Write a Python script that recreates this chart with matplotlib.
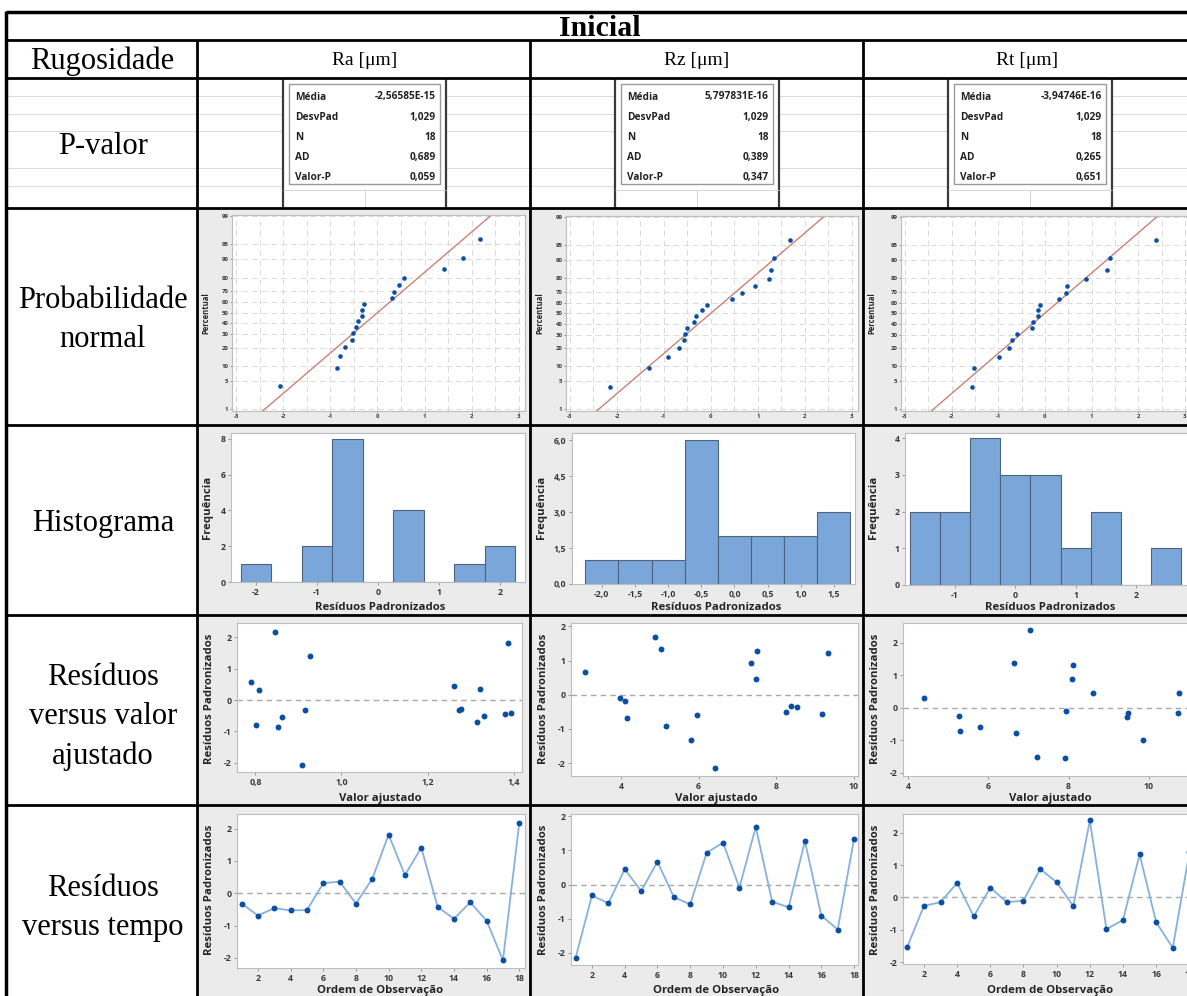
import numpy as np
import matplotlib
matplotlib.use('Agg')
import matplotlib.pyplot as plt
from matplotlib.lines import Line2D
from matplotlib.patches import Rectangle
from matplotlib.ticker import FuncFormatter, FixedLocator
from statistics import NormalDist

W, H = 1187, 996

# ---------------- data ----------------
title = "Inicial"
header = "Rugosidade"
surfaces = ["Ra [μm]", "Rz [μm]", "Rt [μm]"]
row_labels = ["P-valor", "Probabilidade\nnormal", "Histograma",
              "Resíduos\nversus valor\najustado", "Resíduos\nversus tempo"]

obs_order = list(range(1, 19))

resid_ra = [-0.32, -0.69, -0.46, -0.53, -0.52, 0.31, 0.36, -0.32, 0.45,
            1.81, 0.56, 1.41, -0.42, -0.79, -0.28, -0.85, -2.07, 2.18]
fit_ra = [0.916, 1.315, 1.379, 0.862, 1.331, 0.808, 1.322, 1.272, 1.261,
          1.387, 0.791, 0.926, 1.395, 0.801, 1.278, 0.852, 0.909, 0.845]

resid_rz = [-2.15, -0.32, -0.55, 0.45, -0.19, 0.67, -0.37, -0.58, 0.93,
            1.23, -0.09, 1.69, -0.50, -0.67, 1.27, -0.91, -1.32, 1.34]
fit_rz = [6.43, 8.39, 9.17, 7.48, 4.10, 3.07, 8.55, 5.95, 7.35,
          9.33, 3.98, 4.87, 8.25, 4.15, 7.52, 5.16, 5.81, 5.04]

resid_rt = [-1.52, -0.26, -0.15, 0.45, -0.59, 0.30, -0.15, -0.10, 0.88,
            0.47, -0.27, 2.38, -0.98, -0.70, 1.33, -0.77, -1.56, 1.39]
fit_rt = [7.22, 5.28, 9.49, 8.61, 5.80, 4.41, 10.72, 7.94, 8.09,
          10.74, 9.45, 7.05, 9.86, 5.29, 8.10, 6.68, 7.92, 6.64]

hist_edges_ra = [-2.25, -1.75, -1.25, -0.75, -0.25, 0.25, 0.75, 1.25, 1.75, 2.25]
hist_edges_rz = [-2.25, -1.75, -1.25, -0.75, -0.25, 0.25, 0.75, 1.25, 1.75]
hist_edges_rt = [-1.75, -1.25, -0.75, -0.25, 0.25, 0.75, 1.25, 1.75, 2.25, 2.75]

stat_labels = ["Média", "DesvPad", "N", "AD", "Valor-P"]
stats_ra = ["-2,56585E-15", "1,029", "18", "0,689", "0,059"]
stats_rz = ["5,797831E-16", "1,029", "18", "0,389", "0,347"]
stats_rt = ["-3,94746E-16", "1,029", "18", "0,265", "0,651"]
mean_ra, mean_rz, mean_rt = -2.56585e-15, 5.797831e-16, -3.94746e-16
sd_ra, sd_rz, sd_rt = 1.029, 1.029, 1.029

prob_ticks = [1, 5, 10, 20, 30, 40, 50, 60, 70, 80, 90, 95, 99]

# ---------------- style ----------------
plt.rcParams['font.family'] = ['Open Sans', 'DejaVu Sans']
SERIF = ['Liberation Serif', 'DejaVu Serif']
PANEL = '#ebebeb'
DOT = '#0a4fa3'
LINE_TS = '#86b1df'
BAR = '#7ba6d9'
BAR_EDGE = '#4d6380'
FITLINE = '#c98273'
TXT = '#3a3a3a'
LAB = '#262626'

fig = plt.figure(figsize=(W / 100, H / 100), dpi=100)
fig.patch.set_facecolor('white')


def rect_px(x0, y0, x1, y1):
    return [x0 / W, 1 - y1 / H, (x1 - x0) / W, (y1 - y0) / H]


def hline(y, x0, x1, lw=2.0, color='black', z=5):
    fig.add_artist(Line2D([x0 / W, x1 / W], [1 - y / H, 1 - y / H], lw=lw, color=color,
                          transform=fig.transFigure, solid_capstyle='butt', zorder=z))


def vline(x, y0, y1, lw=2.0, color='black', z=5):
    fig.add_artist(Line2D([x / W, x / W], [1 - y0 / H, 1 - y1 / H], lw=lw, color=color,
                          transform=fig.transFigure, solid_capstyle='butt', zorder=z))


def box(x0, y0, x1, y1, fc, ec='none', lw=0, z=-1):
    fig.add_artist(Rectangle((x0 / W, 1 - y1 / H), (x1 - x0) / W, (y1 - y0) / H,
                             transform=fig.transFigure, facecolor=fc, edgecolor=ec,
                             lw=lw, zorder=z))


def ftext(x, y, s, **kw):
    fig.text(x / W, 1 - y / H, s, **kw)


def comma_fmt(dec):
    def f(v, pos):
        return f"{v:.{dec}f}".replace('.', ',')
    return FuncFormatter(f)


def style_ax(ax, fs=6.3):
    ax.set_facecolor('white')
    for sp in ax.spines.values():
        sp.set_color('#bdbdbd')
        sp.set_linewidth(0.8)
    ax.tick_params(direction='out', length=2.5, width=0.6, color='#8a8a8a',
                   labelcolor=TXT, labelsize=fs, pad=1.5)
    for lab in ax.get_xticklabels() + ax.get_yticklabels():
        lab.set_fontweight('bold')


# ---------------- panels background ----------------
col_x = [197, 530, 863, 1187]
row_y = [208, 425, 615, 805, 996]
for c in range(3):
    for r in range(4):
        box(col_x[c], row_y[r], col_x[c + 1], row_y[r + 1], PANEL)

# ---------------- P-valor area (spreadsheet look) ----------------
for yy in [96, 114, 131, 168, 186]:
    hline(yy, 6, 1187, lw=0.6, color='#d4d4d4', z=1)
for xx in [365, 697, 1030]:
    vline(xx, 78, 208, lw=0.6, color='#d4d4d4', z=1)

box_x = [(283, 446), (615, 779), (948, 1112)]
all_stats = [stats_ra, stats_rz, stats_rt]
for (bx0, bx1), st in zip(box_x, all_stats):
    box(bx0, 78, bx1, 208, 'white', z=2)
    vline(bx0, 78, 208, lw=1.6, color='#3a3a3a', z=3)
    vline(bx1, 78, 208, lw=1.6, color='#3a3a3a', z=3)
    hline(190, bx0, bx1, lw=0.6, color='#cfcfcf', z=3)
    vline((bx0 + bx1) / 2, 190, 208, lw=0.6, color='#cfcfcf', z=3)
    box(bx0 + 6, 84, bx1 - 6, 184, 'white', ec='#9a9a9a', lw=1.0, z=4)
    for i, (lab, val) in enumerate(zip(stat_labels, st)):
        yy = 97 + i * 20.2
        ftext(bx0 + 12, yy, lab, fontsize=7.3, fontweight='bold', color='#222222',
              ha='left', va='center', zorder=6)
        ftext(bx1 - 10, yy, val, fontsize=7.3, fontweight='bold', color='#222222',
              ha='right', va='center', zorder=6)

# ---------------- plots ----------------
nd = NormalDist()
residuals = [resid_ra, resid_rz, resid_rt]
fits = [fit_ra, fit_rz, fit_rt]
means = [mean_ra, mean_rz, mean_rt]
sds = [sd_ra, sd_rz, sd_rt]
edges = [hist_edges_ra, hist_edges_rz, hist_edges_rt]

norm_boxes = [(232, 215, 525, 411), (566, 216, 858, 411), (901, 216, 1191, 411)]
hist_boxes = [(231, 433, 525, 582), (572, 433, 855, 584), (905, 433, 1195, 585)]
fit_boxes = [(237, 623, 522, 772), (571, 623, 858, 776), (903, 623, 1195, 776)]
ord_boxes = [(237, 814, 525, 968), (571, 814, 858, 965), (903, 814, 1195, 964)]

hist_xlim = [(-2.41, 2.41), (-2.45, 1.82), (-1.83, 2.98)]
hist_ylim = [(0, 8.32), (0, 6.31), (0, 4.14)]
hist_xt = [[-2, -1, 0, 1, 2], [-2, -1.5, -1, -0.5, 0, 0.5, 1, 1.5], [-1, 0, 1, 2]]
hist_yt = [[0, 2, 4, 6, 8], [0, 1.5, 3, 4.5, 6], [0, 1, 2, 3, 4]]
hist_xdec = [0, 1, 0]
hist_ydec = [0, 1, 0]

fit_xlim = [(0.7574, 1.4194), (2.714, 10.11), (3.875, 11.15)]
fit_ylim = [(-2.30, 2.46), (-2.38, 2.10), (-2.10, 2.61)]
fit_xt = [[0.8, 1.0, 1.2, 1.4], [4, 6, 8, 10], [4, 6, 8, 10]]
fit_xdec = [1, 0, 0]

ord_xlim = [(0.716, 18.35), (0.72, 18.24), (0.735, 18.34)]
ord_ylim = [(-2.31, 2.45), (-2.36, 2.07), (-2.06, 2.58)]

ylab_x = [209, 543, 875]
cx_lab = [380, 716, 1050]

zlo, zhi = nd.inv_cdf(0.01), nd.inv_cdf(0.99)
LFS = 8.2

for c in range(3):
    res = np.array(residuals[c])
    n = len(res)

    # --- normal probability plot ---
    ax = fig.add_axes(rect_px(*norm_boxes[c]))
    srt = np.sort(res)
    zpos = [nd.inv_cdf((i - 0.3) / (n + 0.4)) for i in range(1, n + 1)]
    ax.set_xlim(-3.085, 3.13)
    ax.set_ylim(zlo - 0.04, zhi + 0.025)
    ytz = [nd.inv_cdf(p / 100) for p in prob_ticks]
    for xv in np.arange(-3, 3.01, 0.5):
        ax.axvline(xv, color='#dadada', lw=0.7, dashes=(6, 4), zorder=0)
    for yv in ytz:
        ax.axhline(yv, color='#dadada', lw=0.7, dashes=(6, 4), zorder=0)
    zl = np.linspace(-2.8, 2.8, 50)
    ax.plot(means[c] + sds[c] * zl, zl, color=FITLINE, lw=1.0, zorder=2)
    ax.scatter(srt, zpos, s=11, color=DOT, zorder=3, linewidths=0)
    ax.yaxis.set_major_locator(FixedLocator(ytz))
    ax.set_yticklabels([str(p) for p in prob_ticks])
    ax.xaxis.set_major_locator(FixedLocator([-3, -2, -1, 0, 1, 2, 3]))
    ax.xaxis.set_major_formatter(comma_fmt(0))
    style_ax(ax, fs=4.3)
    ax.tick_params(length=1.5, pad=1)
    ftext(ylab_x[c] - 3, 313, "Percentual", rotation=90, fontsize=5.5,
          fontweight='bold', color=LAB, ha='center', va='center')

    # --- histogram ---
    ax = fig.add_axes(rect_px(*hist_boxes[c]))
    ax.hist(res, bins=edges[c], color=BAR, edgecolor=BAR_EDGE, linewidth=0.8, zorder=2)
    ax.set_xlim(*hist_xlim[c])
    ax.set_ylim(*hist_ylim[c])
    ax.xaxis.set_major_locator(FixedLocator(hist_xt[c]))
    ax.yaxis.set_major_locator(FixedLocator(hist_yt[c]))
    ax.xaxis.set_major_formatter(comma_fmt(hist_xdec[c]))
    ax.yaxis.set_major_formatter(comma_fmt(hist_ydec[c]))
    style_ax(ax)
    ftext(ylab_x[c] - 2, 507, "Frequência", rotation=90, fontsize=LFS,
          fontweight='bold', color=LAB, ha='center', va='center')
    ftext(cx_lab[c], 607, "Resíduos Padronizados", fontsize=LFS,
          fontweight='bold', color=LAB, ha='center', va='center')

    # --- residuals vs fitted ---
    ax = fig.add_axes(rect_px(*fit_boxes[c]))
    ax.axhline(0, color='#a8a8a8', lw=1.0, dashes=(4, 3), zorder=1)
    ax.scatter(fits[c], res, s=18, color=DOT, zorder=3, linewidths=0)
    ax.set_xlim(*fit_xlim[c])
    ax.set_ylim(*fit_ylim[c])
    ax.xaxis.set_major_locator(FixedLocator(fit_xt[c]))
    ax.yaxis.set_major_locator(FixedLocator([-2, -1, 0, 1, 2]))
    ax.xaxis.set_major_formatter(comma_fmt(fit_xdec[c]))
    ax.yaxis.set_major_formatter(comma_fmt(0))
    style_ax(ax)
    ftext(ylab_x[c], 699, "Resíduos Padronizados", rotation=90, fontsize=LFS,
          fontweight='bold', color=LAB, ha='center', va='center')
    ftext(cx_lab[c], 798, "Valor ajustado", fontsize=LFS,
          fontweight='bold', color=LAB, ha='center', va='center')

    # --- residuals vs order ---
    ax = fig.add_axes(rect_px(*ord_boxes[c]))
    ax.axhline(0, color='#a8a8a8', lw=1.0, dashes=(4, 3), zorder=1)
    ax.plot(obs_order, res, color=LINE_TS, lw=1.3, zorder=2)
    ax.scatter(obs_order, res, s=18, color=DOT, zorder=3, linewidths=0)
    ax.set_xlim(*ord_xlim[c])
    ax.set_ylim(*ord_ylim[c])
    ax.xaxis.set_major_locator(FixedLocator(list(range(2, 19, 2))))
    ax.yaxis.set_major_locator(FixedLocator([-2, -1, 0, 1, 2]))
    ax.xaxis.set_major_formatter(comma_fmt(0))
    ax.yaxis.set_major_formatter(comma_fmt(0))
    style_ax(ax)
    ftext(ylab_x[c], 890, "Resíduos Padronizados", rotation=90, fontsize=LFS,
          fontweight='bold', color=LAB, ha='center', va='center')
    ftext(cx_lab[c], 990, "Ordem de Observação", fontsize=LFS,
          fontweight='bold', color=LAB, ha='center', va='center')

# ---------------- table lines ----------------
hline(12, 6, 1187, lw=2.5)
for yy in [40, 78, 208, 425, 615, 805]:
    hline(yy, 6, 1187, lw=2.0)
vline(6, 11, 996, lw=2.5)
for xx in [197, 530, 863]:
    vline(xx, 40, 996, lw=2.0)

# ---------------- table texts ----------------
ftext(600, 36, title, fontsize=21.5, fontweight='bold', family=SERIF,
      ha='center', va='baseline')
ftext(102, 69, header, fontsize=22, family=SERIF, ha='center', va='baseline')
for cx, s in zip([365, 697, 1027], surfaces):
    ftext(cx, 65, s, fontsize=14, family=SERIF, ha='center', va='baseline')

row_centers = [146, 320, 524, 717, 908]
for yc, s in zip(row_centers, row_labels):
    ftext(103, yc, s, fontsize=22, family=SERIF, ha='center', va='center',
          linespacing=1.45)

fig.savefig('out.png', dpi=100)
